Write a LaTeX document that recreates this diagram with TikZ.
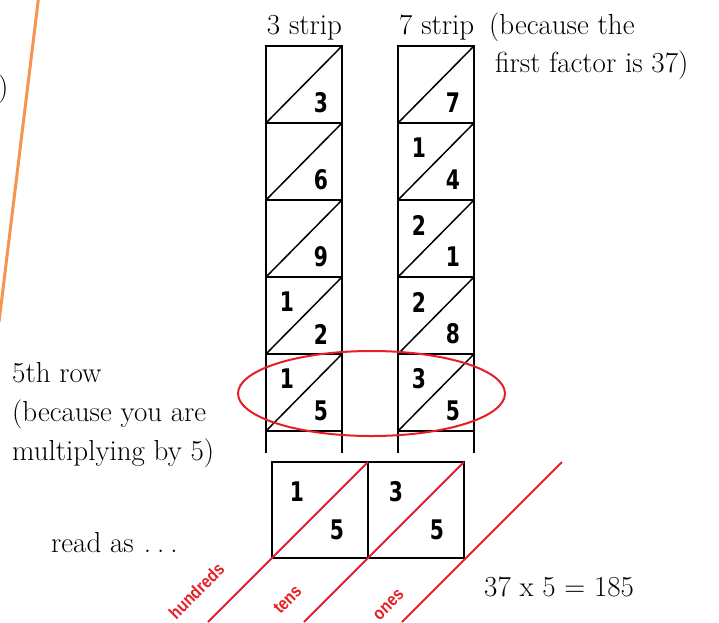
\documentclass[tikz,border=0pt]{standalone}
\usepackage{fontspec}
\newfontfamily\digitfont{DejaVu Sans}[FakeStretch=0.75]
\newfontfamily\labelfont{Liberation Sans}[FakeStretch=0.85]
\usetikzlibrary{calc}
\definecolor{ringred}{RGB}{230,30,40}
\definecolor{lineorange}{RGB}{247,148,80}
\begin{document}
\begin{tikzpicture}[x=1pt,y=-1pt,
  cell/.style={draw=black,line width=2.2pt,minimum width=76pt,minimum height=77pt,inner sep=0pt,outer sep=0pt},
  bcell/.style={draw=black,line width=2pt,minimum width=96pt,minimum height=96pt,inner sep=0pt,outer sep=0pt},
  diag/.style={draw=black,line width=1.5pt},
  dig/.style={inner sep=0pt,font=\digitfont\bfseries\fontsize{27}{27}\selectfont},
  txt/.style={inner sep=0pt,font=\fontsize{29}{38.5}\selectfont},
  redline/.style={draw=ringred,line width=2pt},
  redlab/.style={inner sep=0pt,text=ringred,rotate=45,font=\labelfont\bfseries\fontsize{18}{18}\selectfont},
  tick/.style={draw=black,line width=1.2pt}]
\useasboundingbox (0,0) rectangle (719,622);

% orange line
\draw[lineorange,line width=3pt] (38.5,-2) -- (-1,322);
\node[txt,anchor=base east] (paren) at (8.5,96) {)};

% headings
\node[txt,anchor=base] (h3) at (304.5,34.3) {3 strip};
\node[txt,anchor=base west] (h7) at (399,34.3) {7 strip};
\node[txt,anchor=base west,align=left] (because) at (489,72.7) {(because the\\\hspace*{6pt}first factor is 37)};

% 3 strip cells
\foreach \i/\up/\lo in {1//3,2//6,3//9,4/1/2,5/1/5}{
  \node[cell] (a\i) at (304,{84.5+77*(\i-1)}) {};
  \draw[diag] (a\i.south west) -- (a\i.north east);
  \node[dig] (al\i) at ($(a\i.center)+(17,18.5)$) {\lo};
  \ifx\up\empty\else\node[dig] (au\i) at ($(a\i.center)+(-17,-13.5)$) {\up};\fi
}
% 7 strip cells
\foreach \i/\up/\lo in {1//7,2/1/4,3/2/1,4/2/8,5/3/5}{
  \node[cell,line width=2pt] (b\i) at (436,{84.5+77*(\i-1)}) {};
  \draw[diag] (b\i.south west) -- (b\i.north east);
  \node[dig] (bl\i) at ($(b\i.center)+(17,18.5)$) {\lo};
  \ifx\up\empty\else\node[dig] (bu\i) at ($(b\i.center)+(-17,-13.5)$) {\up};\fi
}

% ticks below strips
\coordinate (t1) at ($(a5.south west)+(0,22)$);
\coordinate (t2) at ($(a5.south east)+(0,22)$);
\coordinate (t3) at ($(b5.south west)+(0,22)$);
\coordinate (t4) at ($(b5.south east)+(0,22)$);
\draw[tick] (a5.south west) -- (t1);
\draw[tick] (a5.south east) -- (t2);
\draw[tick] (b5.south west) -- (t3);
\draw[tick] (b5.south east) -- (t4);

% ellipse
\draw[ringred,line width=2pt] (371.5,393.5) ellipse [x radius=133.5, y radius=42.5];

% left text
\node[txt,anchor=base west,align=left,font=\fontsize{29}{39}\selectfont] (fifth) at (12,460) {5th row\\(because you are\\multiplying by 5)};
\node[txt,anchor=base west] (readas) at (51,552.3) {read as\hspace{10pt}.\hspace{6pt}.\hspace{6pt}.};

% bottom box
\node[bcell] (c1) at (320,510) {};
\node[bcell] (c2) at (416,510) {};
\node[dig] (c1u) at ($(c1.center)+(-23,-18)$) {1};
\node[dig] (c1l) at ($(c1.center)+(17,20)$) {5};
\node[dig] (c2u) at ($(c2.center)+(-20,-18)$) {3};
\node[dig] (c2l) at ($(c2.center)+(21,20)$) {5};

% red diagonals
\coordinate (r1e) at (208,622);
\coordinate (r2e) at (304,622);
\coordinate (r3s) at (562,462);
\coordinate (r3e) at (402,622);
\draw[redline] (c1.north east) -- (r1e);
\draw[redline] (c2.north east) -- (r2e);
\draw[redline] (r3s) -- (r3e);

\node[redlab] (hund) at (196.5,591) {hundreds};
\node[redlab] (tens) at (287.5,599.5) {tens};
\node[redlab] (ones) at (389,605) {ones};

\node[txt,anchor=base west] (eq) at (484,596.7) {37 x 5 = 185};
\end{tikzpicture}
\end{document}
